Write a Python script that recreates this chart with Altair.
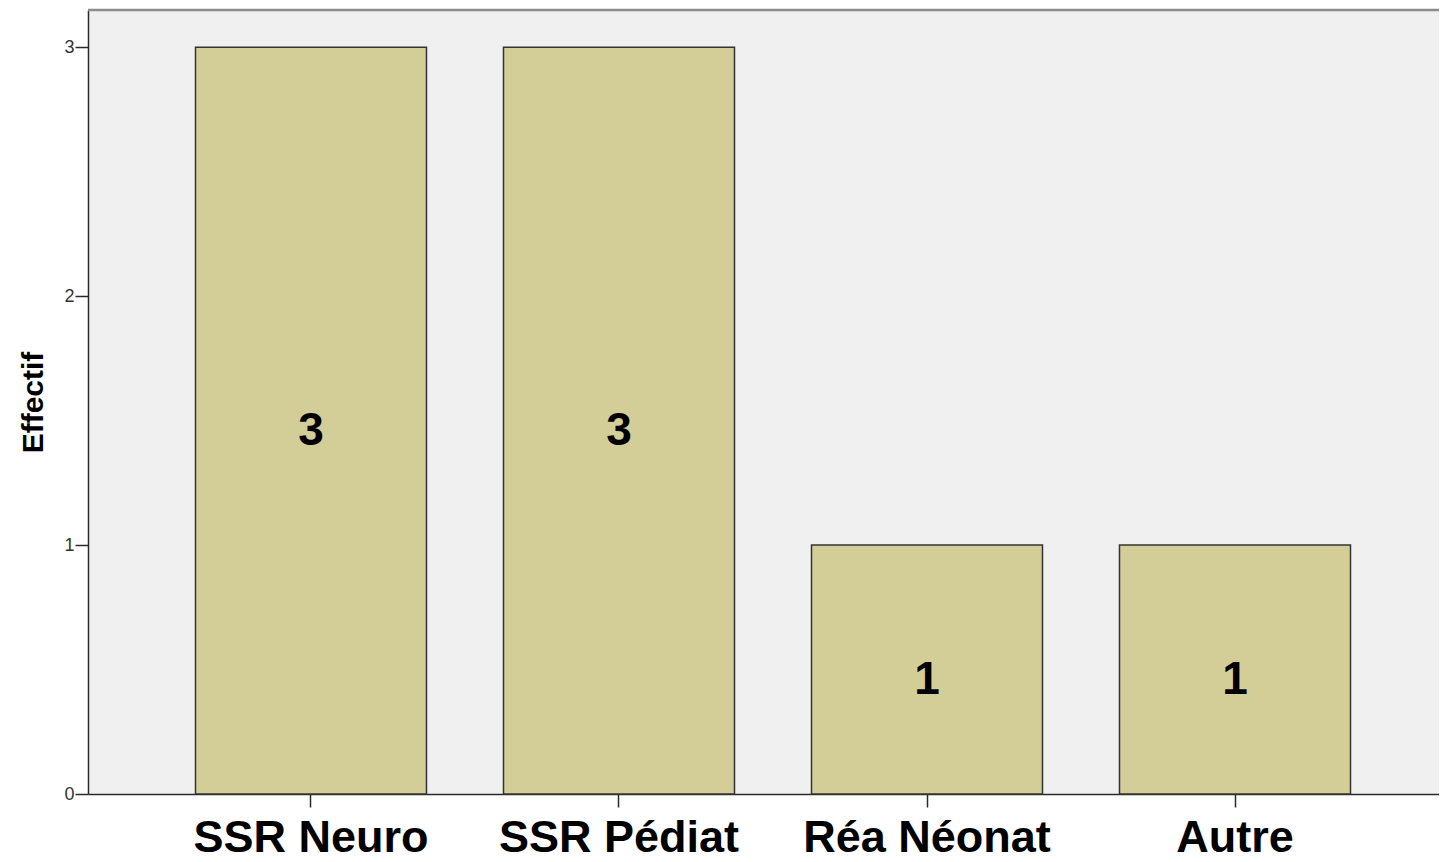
import altair as alt
import pandas as pd

categories = ["SSR Neuro", "SSR Pédiat", "Réa Néonat", "Autre"]
counts = [3, 3, 1, 1]
y_ticks = [0, 1, 2, 3]

df = pd.DataFrame({"cat": categories, "n": counts})
one = pd.DataFrame({"a": [0]})

W, H = 1351, 784
FONT = "Liberation Sans"
AXC = "#2a2a2a"

x_enc = alt.X(
    "cat:N",
    sort=categories,
    scale=alt.Scale(range=[0, 1370], paddingInner=0.25, paddingOuter=0.349),
    axis=alt.Axis(
        title=None, labelAngle=0, labelFontSize=45, labelFontWeight="bold",
        labelColor="#000000", labelFont=FONT, labelLimit=0, labelPadding=8,
        tickSize=13, tickColor=AXC, tickWidth=1.5, domainColor=AXC, domainWidth=1.5,
    ),
)

y_scale = alt.Scale(domain=[0, 3.15], nice=False, zero=True)
y_axis = alt.Axis(
    title="Effectif", values=y_ticks, format="d", grid=False,
    tickSize=13, tickColor=AXC, tickWidth=1.5, domainColor=AXC, domainWidth=1.5,
    labelFontSize=18, labelFont=FONT, labelColor="#333333", labelPadding=1,
    titleFontSize=30, titleFontWeight="bold", titleFont=FONT, titleColor="#000000",
    titleAngle=270, titleX=-46, titleY=392, titleBaseline="alphabetic", titleAlign="center",
)

bars = alt.Chart(df).mark_bar(color="#D3CE98", stroke="#333333", strokeWidth=1.5).encode(
    x=x_enc,
    y=alt.Y("n:Q", scale=y_scale, axis=y_axis),
)

labels = alt.Chart(df).transform_calculate(mid="datum.n / 2").mark_text(
    baseline="alphabetic", dy=24, fontSize=46, fontWeight="bold", font=FONT, color="#000000"
).encode(
    x=alt.X("cat:N", sort=categories),
    y=alt.Y("mid:Q", scale=y_scale, axis=y_axis),
    text=alt.Text("n:Q", format="d"),
)

top_border = alt.Chart(one).mark_rule(color="#8c8c8c", strokeWidth=2.5).encode(
    y=alt.value(0), x=alt.value(0), x2=alt.value(W)
)

chart = alt.layer(bars, labels, top_border).properties(
    width=W, height=H,
    autosize=alt.AutoSizeParams(type="none"),
    padding={"left": 80, "top": 2, "right": 0, "bottom": 60},
    background="#ffffff",
).configure_view(fill="#F0F0F0", stroke=None)

chart.save("out.html", embed_options={"renderer": "svg", "actions": False})
